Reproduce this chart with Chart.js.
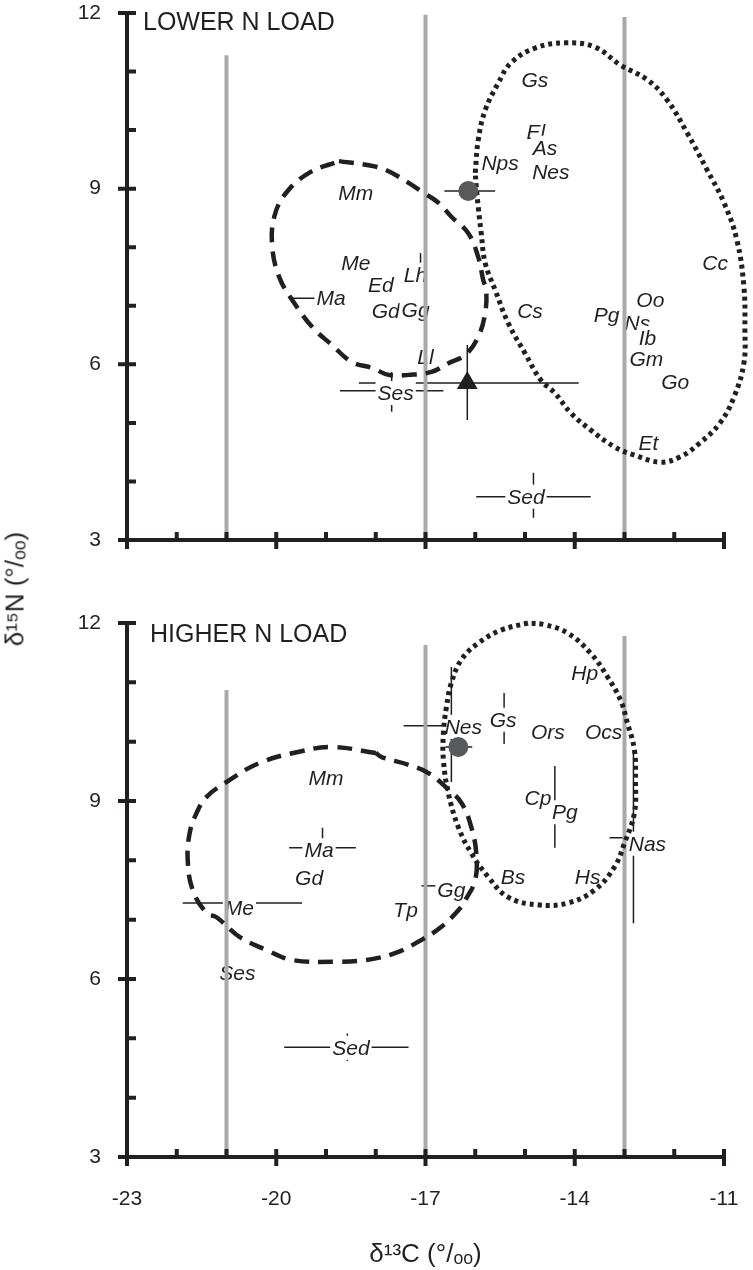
<!DOCTYPE html>
<html>
<head>
<meta charset="utf-8">
<script src="https://cdn.jsdelivr.net/npm/chart.js@4.4.1/dist/chart.umd.min.js"></script>
<style>
  html, body { margin: 0; padding: 0; background: #fff; }
  #wrap { position: relative; width: 753px; height: 1270px; }
  #lowChart { position: absolute; left: 0; top: 0; }
  #highChart { position: absolute; left: 0; top: 600px; }
  #yTitle {
    position: absolute; left: 15px; top: 589px;
    transform: translate(-50%, -50%) rotate(-90deg);
    font: 26px "Liberation Sans", "DejaVu Sans", sans-serif;
    color: #231f20; white-space: nowrap;
  }
</style>
</head>
<body>
<div id="wrap">
  <canvas id="lowChart" width="753" height="600"></canvas>
  <canvas id="highChart" width="753" height="670"></canvas>
  <div id="yTitle">δ¹⁵N (°/ₒₒ)</div>
</div>
<script>
const ink = '#231f20';
const grey = '#a7a9ac';
const fontFam = '"Liberation Sans", "DejaVu Sans", sans-serif';

// axes
const xTickLabels = [-23, -20, -17, -14, -11];
const yTickLabels = [3, 6, 9, 12];
const xMinorTicks = [-23, -22, -21, -20, -19, -18, -17, -16, -15, -14, -13, -12, -11];
const yMinorTicks = [3, 4, 5, 6, 7, 8, 9, 10, 11, 12];

// ---------- LOWER N LOAD ----------
const lowGuideX = [-21, -17, -13];
const lowGuideTop = [11.28, 11.97, 11.93];

const lowDashX = [-18.74, -18.14, -17.80, -17.34, -17.04, -16.74, -16.48, -16.14, -15.94, -15.84, -15.78, -15.80, -15.94, -16.20, -16.54, -16.88, -17.34, -17.74, -18.08, -18.48, -18.88, -19.28, -19.68, -19.94, -20.08, -20.04, -19.80, -19.34];
const lowDashY = [9.47, 9.40, 9.32, 9.10, 8.93, 8.76, 8.52, 8.24, 7.83, 7.44, 7.27, 6.88, 6.47, 6.16, 6.02, 5.87, 5.82, 5.82, 5.94, 6.04, 6.33, 6.64, 7.10, 7.49, 8.00, 8.52, 8.93, 9.27];

const lowDotX = [-16.00, -15.94, -15.80, -15.54, -15.28, -14.80, -14.20, -13.60, -13.08, -12.54, -12.14, -11.74, -11.34, -11.00, -10.74, -10.60, -10.58, -10.60, -10.80, -11.08, -11.48, -11.88, -12.28, -12.80, -13.20, -13.68, -14.08, -14.40, -14.68, -15.00, -15.34, -15.60, -15.80, -15.88, -15.94, -15.98];
const lowDotY = [9.27, 9.83, 10.34, 10.80, 11.15, 11.40, 11.49, 11.42, 11.11, 10.86, 10.51, 9.95, 9.32, 8.76, 8.12, 7.32, 6.59, 6.02, 5.44, 5.00, 4.66, 4.42, 4.33, 4.45, 4.59, 4.88, 5.17, 5.51, 5.73, 6.19, 6.71, 7.27, 7.73, 8.24, 8.69, 9.03];

const lowNames = ['Gs', 'El', 'As', 'Nps', 'Nes', 'Cc', 'Mm', 'Me', 'Ed', 'Lh', 'Ma', 'Gd', 'Gg', 'Ll', 'Cs', 'Pg', 'Oo', 'Ns', 'Ib', 'Gm', 'Go', 'Et', 'Ses', 'Sed'];
const lowNameX = [-14.80, -14.78, -14.60, -15.50, -14.48, -11.18, -18.40, -18.40, -17.90, -17.20, -18.90, -17.80, -17.20, -17.00, -14.90, -13.36, -12.48, -12.74, -12.54, -12.56, -11.98, -12.52, -17.60, -14.98];
const lowNameY = [10.86, 9.97, 9.70, 9.44, 9.29, 7.73, 8.93, 7.73, 7.36, 7.53, 7.13, 6.90, 6.93, 6.13, 6.90, 6.84, 7.10, 6.70, 6.45, 6.09, 5.70, 4.66, 5.51, 3.74];

// error bars: centre, x range, y range (null = none)
const lowBarX = [-16.14, -16.16, -17.68, -14.83, -19.18, -17.10];
const lowBarY = [8.96, 5.68, 5.55, 3.74, 7.13, 7.53];
const lowBarXLo = [-16.62, -18.34, -18.72, -15.98, -19.74, null];
const lowBarXHi = [-15.60, -13.92, -16.64, -13.68, -18.80, null];
const lowBarYLo = [null, 5.05, 5.19, 3.38, null, 7.45];
const lowBarYHi = [null, 6.33, 5.87, 4.15, null, 7.90];

const lowCircle = [{ x: -16.14, y: 8.96 }];
const lowTriangle = [{ x: -16.16, y: 5.68 }];

// ---------- HIGHER N LOAD ----------
const highGuideX = [-21, -17, -13];
const highGuideTop = [10.87, 11.63, 11.78];

const highDashX = [-18.00, -18.88, -19.54, -20.34, -21.00, -21.40, -21.60, -21.74, -21.78, -21.68, -21.40, -21.20, -20.74, -20.20, -19.68, -18.80, -18.20, -17.60, -17.08, -16.68, -16.34, -16.20, -16.00, -15.98, -16.08, -16.28, -16.60, -16.94, -17.34, -17.88];
const highDashY = [9.81, 9.91, 9.83, 9.64, 9.32, 9.07, 8.80, 8.46, 8.01, 7.50, 7.11, 7.04, 6.71, 6.49, 6.32, 6.29, 6.32, 6.44, 6.66, 6.88, 7.16, 7.33, 7.67, 8.12, 8.56, 8.97, 9.24, 9.47, 9.61, 9.74];

const highDotX = [-14.94, -15.48, -15.94, -16.28, -16.48, -16.58, -16.64, -16.64, -16.54, -16.34, -16.08, -15.74, -15.34, -14.74, -14.14, -13.60, -13.20, -13.00, -12.80, -12.78, -12.80, -12.94, -13.08, -13.34, -13.68, -14.14, -14.60];
const highDotY = [12.00, 11.88, 11.66, 11.38, 10.99, 10.58, 10.15, 9.69, 9.13, 8.56, 8.12, 7.72, 7.38, 7.25, 7.28, 7.50, 7.89, 8.29, 8.80, 9.35, 9.86, 10.31, 10.70, 11.09, 11.49, 11.83, 11.97];

const highNames = ['Hp', 'Nes', 'Gs', 'Ors', 'Ocs', 'Mm', 'Cp', 'Pg', 'Nas', 'Ma', 'Gd', 'Bs', 'Hs', 'Gg', 'Me', 'Tp', 'Ses', 'Sed'];
const highNameX = [-13.80, -16.24, -15.44, -14.54, -13.42, -19.00, -14.74, -14.20, -12.54, -19.14, -19.34, -15.24, -13.74, -16.48, -20.74, -17.40, -20.78, -18.50];
const highNameY = [11.16, 10.25, 10.37, 10.16, 10.16, 9.39, 9.05, 8.81, 8.28, 8.17, 7.70, 7.72, 7.72, 7.50, 7.20, 7.16, 6.10, 4.84];

const highBarX = [-16.34, -16.48, -15.42, -14.40, -12.82, -19.07, -20.68, -16.84, -18.57];
const highBarY = [9.91, 10.27, 10.39, 8.90, 8.38, 8.21, 7.28, 7.57, 4.85];
const highBarXLo = [-16.60, -17.44, null, null, -13.30, -19.74, -21.88, -17.08, -19.84];
const highBarXHi = [-16.06, -16.00, null, null, -12.50, -18.40, -19.48, -16.55, -17.34];
const highBarYLo = [9.74, 9.32, 9.96, 8.21, 6.94, 8.10, null, null, 4.62];
const highBarYHi = [10.08, 11.26, 10.82, 9.59, 9.86, 8.55, null, null, 5.08];

const highCircle = [{ x: -16.34, y: 9.91 }];

function pts(xs, ys, close) {
  const out = xs.map((v, i) => ({ x: v, y: ys[i] }));
  if (close) out.push({ x: xs[0], y: ys[0] });
  return out;
}

function makePanel(canvasId, p) {
  const datasets = [];
  p.guideX.forEach((gx, i) => {
    datasets.push({ data: [{ x: gx, y: 3 }, { x: gx, y: p.guideTop[i] }], showLine: true,
      borderColor: grey, borderWidth: 4, pointRadius: 0, order: 5 });
  });
  datasets.push({ data: pts(p.dashX, p.dashY, true), showLine: true, borderColor: ink,
    borderWidth: 4.5, borderDash: [15, 9], tension: 0.4, pointRadius: 0, clip: false, order: 3 });
  datasets.push({ data: pts(p.dotX, p.dotY, true), showLine: true, borderColor: ink,
    borderWidth: 5, borderDash: [4, 4], tension: 0.4, pointRadius: 0, clip: false, order: 3 });
  datasets.push({ data: p.circle, pointStyle: 'circle', pointRadius: 10, backgroundColor: '#58595b',
    borderWidth: 0, order: 1 });
  if (p.triangle) {
    datasets.push({ data: p.triangle, pointStyle: 'triangle', pointRadius: 12, backgroundColor: ink,
      borderWidth: 0, order: 1 });
  }

  const annotate = {
    id: 'annotate',
    beforeDatasetsDraw(chart) {
      const { ctx, scales: { x, y } } = chart;
      ctx.save();
      // error bars
      ctx.strokeStyle = ink;
      ctx.lineWidth = 1.5;
      p.barX.forEach((bx, i) => {
        ctx.beginPath();
        if (p.barXLo[i] !== null) {
          ctx.moveTo(x.getPixelForValue(p.barXLo[i]), y.getPixelForValue(p.barY[i]));
          ctx.lineTo(x.getPixelForValue(p.barXHi[i]), y.getPixelForValue(p.barY[i]));
        }
        if (p.barYLo[i] !== null) {
          ctx.moveTo(x.getPixelForValue(bx), y.getPixelForValue(p.barYLo[i]));
          ctx.lineTo(x.getPixelForValue(bx), y.getPixelForValue(p.barYHi[i]));
        }
        ctx.stroke();
      });
      // species labels
      ctx.font = 'italic 21px ' + fontFam;
      ctx.textAlign = 'center';
      ctx.textBaseline = 'middle';
      p.names.forEach((n, i) => {
        const px = x.getPixelForValue(p.nameX[i]);
        const py = y.getPixelForValue(p.nameY[i]);
        const w = ctx.measureText(n).width;
        ctx.fillStyle = '#fff';
        ctx.fillRect(px - w / 2 - 2, py - 12, w + 4, 24);
        ctx.fillStyle = ink;
        ctx.fillText(n, px, py + 1);
      });
      ctx.restore();
    },
    afterDatasetsDraw(chart) {
      const { ctx, scales: { x, y } } = chart;
      const x0 = x.getPixelForValue(-23), x1 = x.getPixelForValue(-11);
      const y0 = y.getPixelForValue(3), y1 = y.getPixelForValue(12);
      ctx.save();
      ctx.strokeStyle = ink;
      ctx.lineWidth = 4;
      ctx.beginPath();
      ctx.moveTo(x0, y0); ctx.lineTo(x1, y0);
      ctx.moveTo(x0, y0); ctx.lineTo(x0, y1);
      xMinorTicks.forEach(v => {
        const px = x.getPixelForValue(v);
        ctx.moveTo(px, y0 - 8);
        ctx.lineTo(px, xTickLabels.includes(v) ? y0 + 9 : y0);
      });
      yMinorTicks.forEach(v => {
        const py = y.getPixelForValue(v);
        ctx.moveTo(yTickLabels.includes(v) ? x0 - 9 : x0, py);
        ctx.lineTo(x0 + 9, py);
      });
      ctx.stroke();
      // panel title
      ctx.fillStyle = ink;
      ctx.font = '25px ' + fontFam;
      ctx.textAlign = 'left';
      ctx.textBaseline = 'middle';
      ctx.fillText(p.title, chart.chartArea.left + p.titleDx, chart.chartArea.top + p.titleDy);
      ctx.restore();
    }
  };

  return new Chart(document.getElementById(canvasId), {
    type: 'scatter',
    data: { datasets: datasets },
    plugins: [annotate],
    options: {
      responsive: false,
      animation: false,
      layout: { autoPadding: false, padding: { top: p.padTop, right: 29, left: 0, bottom: 0 } },
      plugins: { legend: { display: false }, tooltip: { enabled: false } },
      scales: {
        x: {
          type: 'linear', min: -23, max: -11,
          grid: { display: true, drawOnChartArea: false, drawTicks: true, tickLength: 30, tickColor: 'rgba(0,0,0,0)' },
          border: { display: false },
          ticks: {
            display: p.showX, stepSize: 3, autoSkip: false, maxRotation: 0, padding: 0,
            color: ink, font: { size: 21, family: fontFam },
            callback: v => xTickLabels.includes(v) ? String(v) : ''
          },
          title: {
            display: p.showX, text: 'δ¹³C (°/ₒₒ)', color: ink,
            font: { size: 26, family: fontFam }, padding: { top: 0, bottom: 0 }
          },
          afterFit: s => { s.height = p.xHeight; }
        },
        y: {
          type: 'linear', min: 3, max: 12,
          grid: { display: true, drawOnChartArea: false, drawTicks: true, tickLength: 26, tickColor: 'rgba(0,0,0,0)' },
          border: { display: false },
          ticks: {
            stepSize: 3, autoSkip: false, padding: 0, color: ink,
            font: { size: 21, family: fontFam },
            callback: v => yTickLabels.includes(v) ? String(v) : ''
          },
          afterFit: s => { s.width = 127; }
        }
      }
    }
  });
}

makePanel('lowChart', {
  title: 'LOWER N LOAD', titleDx: 16, titleDy: 10, padTop: 13, xHeight: 60, showX: false,
  guideX: lowGuideX, guideTop: lowGuideTop,
  dashX: lowDashX, dashY: lowDashY, dotX: lowDotX, dotY: lowDotY,
  names: lowNames, nameX: lowNameX, nameY: lowNameY,
  barX: lowBarX, barY: lowBarY, barXLo: lowBarXLo, barXHi: lowBarXHi, barYLo: lowBarYLo, barYHi: lowBarYHi,
  circle: lowCircle, triangle: lowTriangle
});

makePanel('highChart', {
  title: 'HIGHER N LOAD', titleDx: 23, titleDy: 12, padTop: 23, xHeight: 113, showX: true,
  guideX: highGuideX, guideTop: highGuideTop,
  dashX: highDashX, dashY: highDashY, dotX: highDotX, dotY: highDotY,
  names: highNames, nameX: highNameX, nameY: highNameY,
  barX: highBarX, barY: highBarY, barXLo: highBarXLo, barXHi: highBarXHi, barYLo: highBarYLo, barYHi: highBarYHi,
  circle: highCircle, triangle: null
});
</script>
</body>
</html>
